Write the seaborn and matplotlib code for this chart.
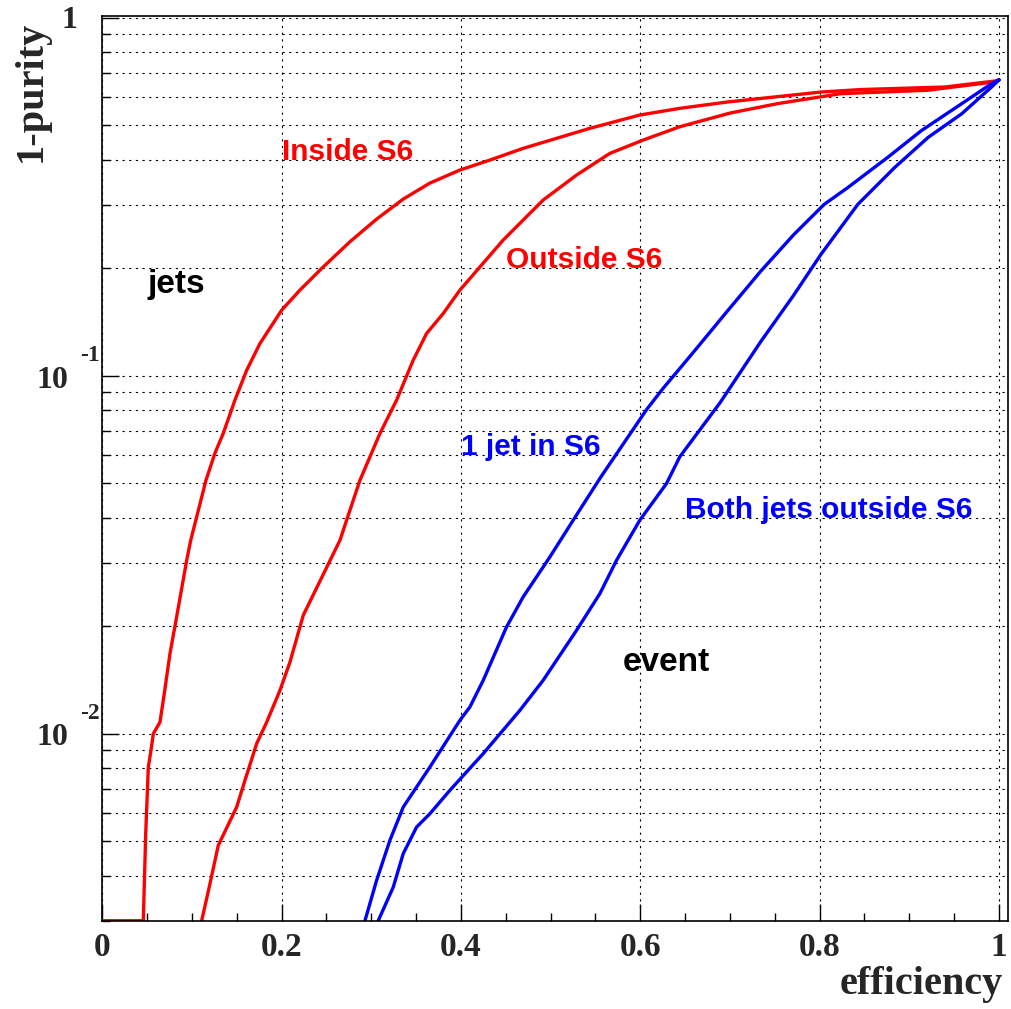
import numpy as np
import pandas as pd
import matplotlib
matplotlib.use('Agg')
import matplotlib.pyplot as plt
import seaborn as sns
from matplotlib.ticker import MultipleLocator, LogLocator, NullFormatter

# curve values (efficiency, 1-purity)
inside_x = [0.0, 0.039, 0.0457, 0.0484, 0.0513, 0.0540, 0.0569, 0.0643, 0.0691, 0.0755,
            0.0836, 0.0941, 0.0986, 0.1052, 0.1156, 0.1256, 0.1349, 0.1479, 0.1610,
            0.1758, 0.2000, 0.2204, 0.2464, 0.2761, 0.3059, 0.3356, 0.3653, 0.3988,
            0.4322, 0.4693, 0.5066, 0.5437, 0.5994, 0.6440, 0.6964, 0.8012, 0.8458,
            0.9394, 0.9959, 1.0]
inside_y = [0.003, 0.003, 0.003, 0.00526, 0.00806, 0.00888, 0.00999, 0.01076, 0.01293,
            0.01675, 0.02167, 0.03049, 0.03467, 0.04028, 0.0510, 0.0607, 0.0690, 0.0854,
            0.1035, 0.1229, 0.1523, 0.1733, 0.2012, 0.2364, 0.2736, 0.3112, 0.3449,
            0.3751, 0.3999, 0.4312, 0.4600, 0.4905, 0.5343, 0.5578, 0.5808, 0.6194,
            0.6295, 0.6398, 0.6651, 0.67]

outside_x = [0.1108, 0.1201, 0.1293, 0.1498, 0.1591, 0.1721, 0.1833, 0.1981, 0.2093,
             0.2241, 0.2650, 0.2873, 0.3096, 0.3282, 0.3467, 0.3616, 0.3802, 0.3988,
             0.4470, 0.4916, 0.5289, 0.5660, 0.6031, 0.6440, 0.7003, 0.7527, 0.8235,
             0.9205, 0.9959, 1.0]
outside_y = [0.003, 0.00381, 0.00487, 0.00623, 0.00740, 0.00937, 0.01076, 0.01320,
             0.01584, 0.02140, 0.03467, 0.0510, 0.0689, 0.0854, 0.1104, 0.1311, 0.1491,
             0.1733, 0.2390, 0.3092, 0.3632, 0.4175, 0.4548, 0.4956, 0.5413, 0.5748,
             0.6130, 0.6266, 0.6616, 0.67]

onejet_x = [0.2929, 0.3059, 0.3207, 0.3356, 0.3653, 0.3988, 0.4099, 0.4248, 0.4508,
            0.4693, 0.4991, 0.5251, 0.5560, 0.6066, 0.6246, 0.6592, 0.6964, 0.7340,
            0.7711, 0.8050, 0.8313, 0.8759, 0.9135, 0.9584, 0.9919, 1.0]
onejet_y = [0.003, 0.00389, 0.00503, 0.00623, 0.00806, 0.01089, 0.01186, 0.01408,
            0.01985, 0.02407, 0.03113, 0.03944, 0.05210, 0.0801, 0.0916, 0.1162, 0.1507,
            0.1953, 0.2476, 0.3007, 0.3350, 0.4070, 0.4835, 0.5748, 0.6543, 0.67]

both_x = [0.3077, 0.3244, 0.3356, 0.3505, 0.3653, 0.3876, 0.4248, 0.4657, 0.4916,
          0.5289, 0.5549, 0.5735, 0.5994, 0.6292, 0.6440, 0.6891, 0.7340, 0.7711,
          0.8012, 0.8425, 0.8837, 0.9211, 0.9584, 0.9919, 1.0]
both_y = [0.003, 0.00372, 0.00462, 0.00548, 0.00597, 0.00694, 0.00879, 0.01161, 0.01408,
          0.01943, 0.02460, 0.03049, 0.03944, 0.04994, 0.0593, 0.0841, 0.1241, 0.1678,
          0.2176, 0.3007, 0.3814, 0.4630, 0.5387, 0.6405, 0.67]

curve_names = ['Inside S6', 'Outside S6', '1 jet in S6', 'Both jets outside S6']
curve_colors = ['#ff0000', '#ff0000', '#0000ff', '#0000ff']

x_ticks = [0, 0.2, 0.4, 0.6, 0.8, 1.0]
x_tick_labels = ['0', '0.2', '0.4', '0.6', '0.8', '1']
y_ticks = [0.01, 0.1, 1.0]
y_label_base = ['10', '10', '1']
y_label_exp = ['-2', '-1', '']

# text labels: (text, x, y, colour, size)
notes = [('Inside S6', 0.2, 0.4, '#ff0000', 21.5),
         ('Outside S6', 0.45, 0.2, '#ff0000', 21.5),
         ('1 jet in S6', 0.4, 0.06, '#0000ff', 21.5),
         ('Both jets outside S6', 0.65, 0.04, '#0000ff', 21.5),
         ('jets', 0.05, 0.17, 'black', 24),
         ('event', 0.58, 0.015, 'black', 24)]

frames = []
for name, xs, ys in zip(curve_names, [inside_x, outside_x, onejet_x, both_x],
                        [inside_y, outside_y, onejet_y, both_y]):
    frames.append(pd.DataFrame({'efficiency': xs, 'impurity': ys, 'curve': name}))
df = pd.concat(frames, ignore_index=True)

sns.set_style('ticks')
plt.rcParams['font.family'] = ['Liberation Serif', 'DejaVu Serif']
plt.rcParams['font.weight'] = 'bold'
plt.rcParams['axes.labelweight'] = 'bold'

fig = plt.figure(figsize=(10.11, 10.09), dpi=100)
ax = fig.add_axes([0.1012, 0.0875, 0.8958, 0.8969])
ax.set_yscale('log')

sns.lineplot(data=df, x='efficiency', y='impurity', hue='curve', estimator=None,
             sort=False, palette=dict(zip(curve_names, curve_colors)),
             linewidth=2.4, legend=False, ax=ax)

ax.set_xlim(0, 1.01)
ax.set_ylim(0.003, 1.012)

ax.set_xticks(x_ticks, labels=x_tick_labels)
ax.xaxis.set_minor_locator(MultipleLocator(0.05))
ax.set_yticks(y_ticks, labels=['' for _ in y_ticks])
ax.yaxis.set_minor_locator(LogLocator(base=10, subs=np.arange(2, 10)))
ax.yaxis.set_minor_formatter(NullFormatter())

ax.tick_params(which='both', direction='in', top=False, right=False, width=1, color='black')
ax.tick_params(which='major', length=12, labelsize=24)
ax.tick_params(which='minor', length=6)
ax.tick_params(axis='x', which='major', pad=8)

# ROOT-style y labels: "10" with the exponent raised beside it
for val, base, expo in zip(y_ticks, y_label_base, y_label_exp):
    ax.annotate(base, xy=(0, val), xycoords=('axes fraction', 'data'),
                xytext=(-24.5 if expo else -18, -8.6 if expo else -7.5),
                textcoords='offset points', ha='right', va='baseline',
                fontsize=23, fontweight='bold')
    if expo:
        ax.annotate(expo, xy=(0, val), xycoords=('axes fraction', 'data'),
                    xytext=(-1.5, 10.8), textcoords='offset points',
                    ha='right', va='baseline', fontsize=17, fontweight='bold')

grid_style = dict(color='black', linewidth=0.8, linestyle=(0, (2, 4)))
ax.grid(axis='x', which='major', **grid_style)
ax.grid(axis='y', which='both', **grid_style)
ax.set_axisbelow(True)

for side in ['left', 'right', 'top', 'bottom']:
    ax.spines[side].set_color('black')
    ax.spines[side].set_linewidth(1.2)

ax.set_xlabel('efficiency', fontsize=29, loc='right')
ax.xaxis.set_label_coords(0.9945, -0.050)
ax.set_ylabel('1-purity', fontsize=29, loc='top')
ax.yaxis.set_label_coords(-0.058, 0.995)

for text, tx, ty, col, size in notes:
    ax.text(tx, ty, text, color=col, fontsize=size, ha='left', va='baseline',
            family=['Liberation Sans', 'DejaVu Sans'], fontweight='bold')

fig.savefig('out.png', dpi=100)
